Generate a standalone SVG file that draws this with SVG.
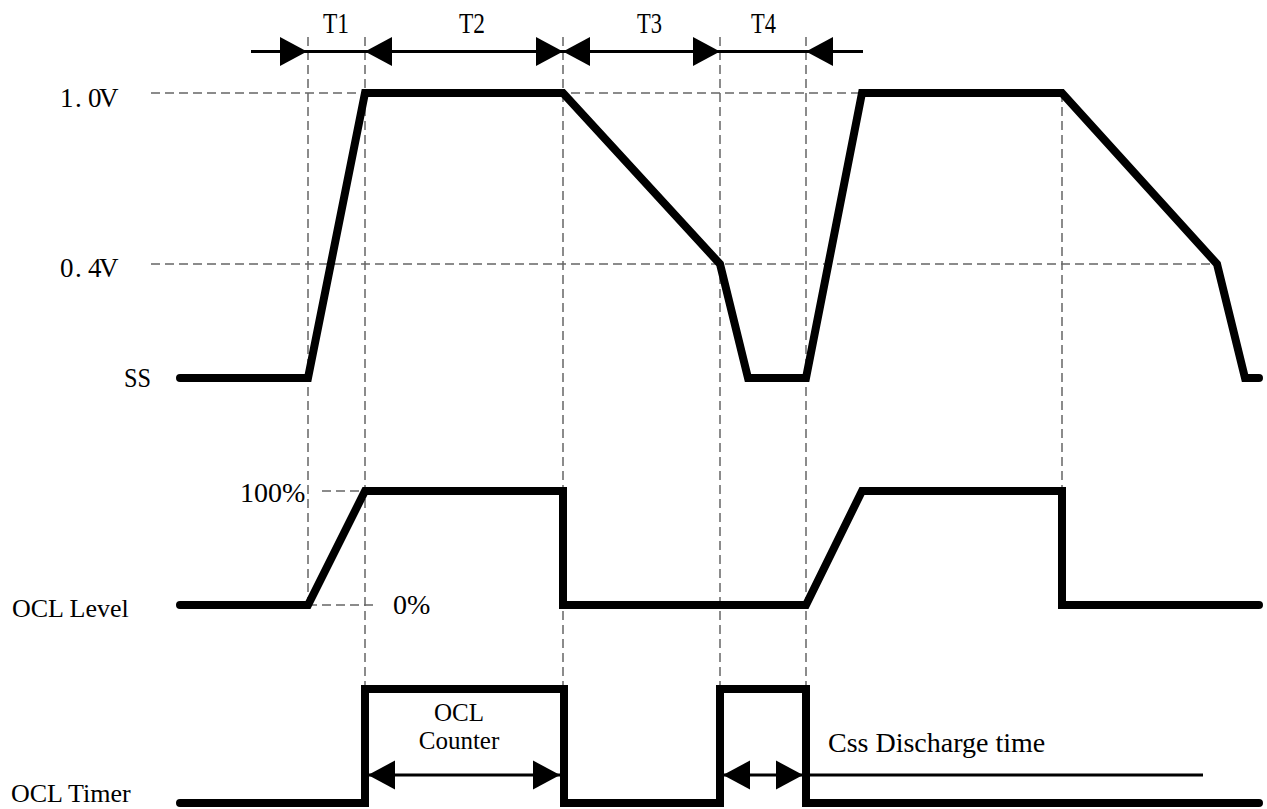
<svg xmlns="http://www.w3.org/2000/svg" xmlns:xlink="http://www.w3.org/1999/xlink" width="1267" height="809" viewBox="0 0 1267 809">
  <style>
    .wave { fill: none; stroke: #000; stroke-width: 8; stroke-linejoin: miter; stroke-linecap: round; }
    .guide { fill: none; stroke: #666; stroke-width: 1.5; stroke-dasharray: 9 5; }
    .dim { fill: none; stroke: #000; stroke-width: 3; }
    .head { fill: #000; stroke: none; }
    .lbl { font-family: "Liberation Serif", "Times New Roman", serif; fill: #000; }
  </style>
  <defs>
    <path id="arrR" class="head" d="M0,0 L-27,-14.5 L-27,14.5 Z"/>
    <path id="arrL" class="head" d="M0,0 L27,-14.5 L27,14.5 Z"/>
  </defs>
  <rect width="1267" height="809" fill="#fff"/>

  <g id="connectors">
    <g id="guides">
      <line class="guide" x1="151" y1="93" x2="862" y2="93"/>
      <line class="guide" x1="151" y1="264" x2="1217" y2="264"/>
      <line class="guide" x1="322" y1="491" x2="365" y2="491"/>
      <line class="guide" x1="308" y1="605" x2="378" y2="605"/>
      <line class="guide" x1="308" y1="37" x2="308" y2="605"/>
      <line class="guide" x1="365" y1="37" x2="365" y2="689"/>
      <line class="guide" x1="563" y1="37" x2="563" y2="689"/>
      <line class="guide" x1="720" y1="37" x2="720" y2="689"/>
      <line class="guide" x1="806" y1="37" x2="806" y2="689"/>
      <line class="guide" x1="1062" y1="93" x2="1062" y2="491"/>
    </g>
    <g id="timing-dimensions">
      <line class="dim" x1="251" y1="51.5" x2="863" y2="51.5"/>
      <use xlink:href="#arrR" x="307" y="51.5"/>
      <use xlink:href="#arrL" x="365" y="51.5"/>
      <use xlink:href="#arrR" x="563" y="51.5"/>
      <use xlink:href="#arrL" x="563" y="51.5"/>
      <use xlink:href="#arrR" x="720" y="51.5"/>
      <use xlink:href="#arrL" x="806" y="51.5"/>
    </g>
    <g id="counter-dimensions">
      <line class="dim" x1="368" y1="775" x2="560" y2="775"/>
      <use xlink:href="#arrL" x="368" y="775"/>
      <use xlink:href="#arrR" x="560" y="775"/>
      <line class="dim" x1="723" y1="775" x2="1203" y2="775"/>
      <use xlink:href="#arrL" x="723" y="775"/>
      <use xlink:href="#arrR" x="803" y="775"/>
    </g>
  </g>

  <g id="interval-labels">
    <text class="lbl" x="323" y="33" font-size="28.5" textLength="26" lengthAdjust="spacingAndGlyphs">T1</text>
    <text class="lbl" x="459" y="33" font-size="28.5" textLength="26" lengthAdjust="spacingAndGlyphs">T2</text>
    <text class="lbl" x="637" y="33" font-size="28.5" textLength="25" lengthAdjust="spacingAndGlyphs">T3</text>
    <text class="lbl" x="751" y="33" font-size="28.5" textLength="25" lengthAdjust="spacingAndGlyphs">T4</text>
  </g>

  <g id="ss">
    <text class="lbl" x="60 75 88 99" y="107" font-size="27">1.0V</text>
    <text class="lbl" x="60 75 88 99" y="277" font-size="27">0.4V</text>
    <text class="lbl" x="124" y="387" font-size="27" textLength="27" lengthAdjust="spacingAndGlyphs">SS</text>
    <polyline class="wave" points="180,378 308,378 365,93 563,93 720,264 748,378 806,378 862,93 1062,93 1217,264 1245,378 1259,378"/>
  </g>

  <g id="ocl-level">
    <text class="lbl" x="240" y="502" font-size="28">100%</text>
    <text class="lbl" x="393" y="614" font-size="28">0%</text>
    <text class="lbl" x="12" y="617" font-size="26">OCL Level</text>
    <polyline class="wave" points="180,605 308,605 365,491 563,491 563,605 806,605 862,491 1062,491 1062,605 1259,605"/>
  </g>

  <g id="ocl-timer">
    <text class="lbl" x="11" y="802" font-size="26">OCL Timer</text>
    <text class="lbl" x="459" y="721" font-size="25" text-anchor="middle">OCL</text>
    <text class="lbl" x="459" y="749" font-size="25" text-anchor="middle">Counter</text>
    <text class="lbl" x="828" y="752" font-size="28">Css Discharge time</text>
    <polyline class="wave" points="180,803 365,803 365,689 564,689 564,803 720,803 720,689 806,689 806,803 1259,803"/>
  </g>
</svg>
